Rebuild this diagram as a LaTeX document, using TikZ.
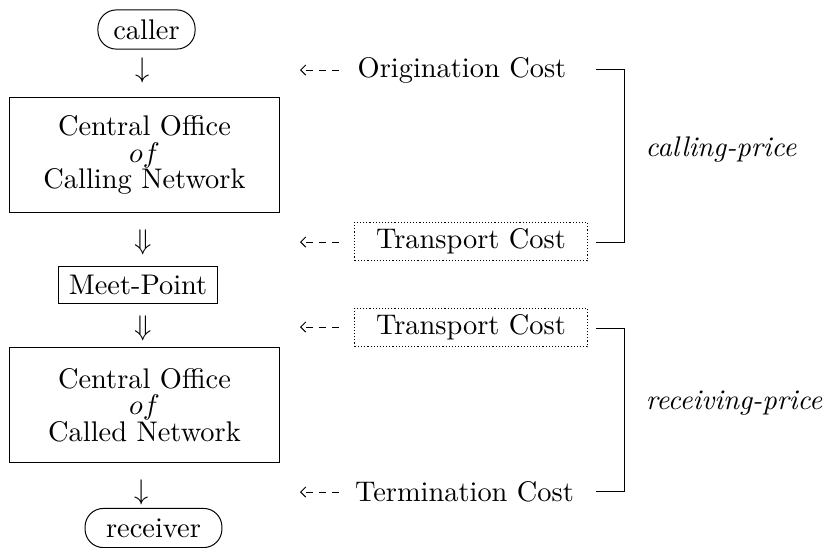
\documentclass[tikz,border=0pt]{standalone}
\usetikzlibrary{arrows.meta}
\begin{document}
\begin{tikzpicture}[x=0.3521pt,y=-0.3521pt,line width=0.35pt,
  endbox/.style={draw,rounded corners=6.5pt,inner sep=0pt,minimum height=13.8pt},
  officebox/.style={draw,align=center,inner sep=0pt,minimum width=95.4pt,minimum height=40.8pt},
  meetbox/.style={draw,inner sep=0pt,minimum width=56.3pt,minimum height=12.7pt},
  costbox/.style={draw,dash pattern=on 0.4pt off 0.7pt,inner sep=0pt,minimum width=81.7pt,minimum height=13.7pt},
  costtext/.style={inner sep=0pt},
  glyph/.style={inner sep=0pt},
  dasharrow/.style={dash pattern=on 2.6pt off 1.9pt,-{Straight Barb[length=1.8pt,width=3.6pt]}},
  bracket/.style={line width=0.35pt},
  pricetext/.style={inner sep=0pt,font=\itshape}]
\useasboundingbox (0,0) rectangle (827,548);
% left column
\node[endbox,minimum width=34.2pt] (caller) at (146.5,29.5) {caller};
\node[glyph] (d1) at (143,70) {$\downarrow$};
\node[officebox] (calling) at (144.5,155) {Central Office\\[-2.7pt] $of$\\[-2.7pt] Calling Network};
\node[glyph] (d2) at (143,242) {$\Downarrow$};
\node[meetbox] (meet) at (138,285) {Meet-Point};
\node[glyph] (d3) at (143,328) {$\Downarrow$};
\node[officebox] (called) at (144.5,405) {Central Office\\[-2.7pt] $of$\\[-2.7pt] Called Network};
\node[glyph] (d4) at (142,492) {$\downarrow$};
\node[endbox,minimum width=48.2pt] (receiver) at (153.5,528) {receiver};
% cost column
\node[costtext] (orig) at (462,70) {Origination Cost};
\node[costbox] (trA) at (471,241.5) {Transport Cost};
\node[costbox] (trB) at (471,327.5) {Transport Cost};
\node[costtext] (term) at (464.5,492) {Termination Cost};
% dashed arrows
\coordinate (a1s) at (339,70);  \coordinate (a1e) at (300,70);
\coordinate (a2s) at (339,242); \coordinate (a2e) at (300,242);
\coordinate (a3s) at (339,327); \coordinate (a3e) at (300,327);
\coordinate (a4s) at (339,492); \coordinate (a4e) at (300,492);
\draw[dasharrow] (a1s) -- (a1e);
\draw[dasharrow] (a2s) -- (a2e);
\draw[dasharrow] (a3s) -- (a3e);
\draw[dasharrow] (a4s) -- (a4e);
% brackets
\coordinate (b1t) at (596,69);  \coordinate (b1b) at (596,242);
\coordinate (b2t) at (596,328); \coordinate (b2b) at (596,491);
\draw[bracket] (b1t) -- (624,69) -- (624,242) -- (b1b);
\draw[bracket] (b2t) -- (624,328) -- (624,491) -- (b2b);
\node[pricetext] (cp) at (721,150) {calling-price};
\node[pricetext] (rp) at (734,403) {receiving-price};
\end{tikzpicture}
\end{document}
